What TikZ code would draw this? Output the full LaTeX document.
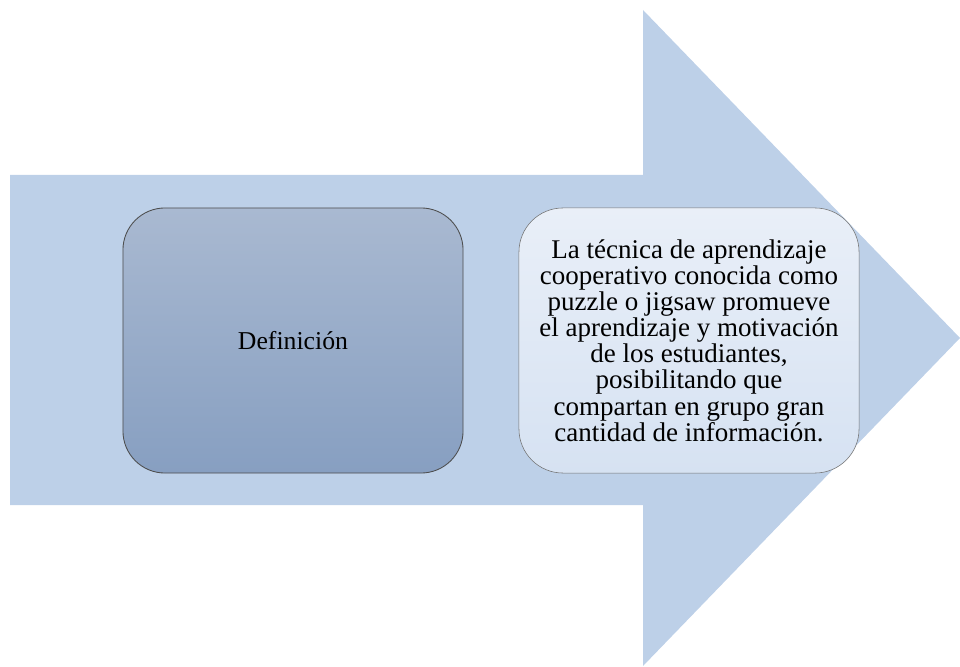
\documentclass[tikz,border=0pt]{standalone}
\usepackage{fontspec}
\setmainfont{Liberation Serif}
\usepackage{xcolor}
\usetikzlibrary{positioning,calc}

\definecolor{arrowblue}{HTML}{BDD0E8}
\definecolor{darktop}{HTML}{A9B9D1}
\definecolor{darkbot}{HTML}{879FC1}
\definecolor{lighttop}{HTML}{E9EFF8}
\definecolor{lightbot}{HTML}{D6E2F2}

\begin{document}
\begin{tikzpicture}[x=0.025cm, y=0.025cm]
    \useasboundingbox (0,0) rectangle (960,666);
    % Big arrow in the background
    \fill[arrowblue] (10,491) -- (643,491) -- (643,656) -- (960,328) -- (643,0) -- (643,161) -- (10,161) -- cycle;

    % Left box
    \node[draw=black!70, semithick, rounded corners=1.05cm, minimum width=8.5cm, minimum height=6.625cm, top color=darktop, bottom color=darkbot, font=\fontsize{18.3}{18.6}\selectfont] (definicion) at (293,325.5) {Definición};

    % Right box
    \node[draw=black!55, rounded corners=1.1cm, minimum width=8.5cm, minimum height=6.625cm, top color=lighttop, bottom color=lightbot, align=center, font=\fontsize{19.2}{18.6}\selectfont] (texto) at (689,325.5) {La técnica de aprendizaje\\cooperativo conocida como\\puzzle o jigsaw promueve\\el aprendizaje y motivación\\de los estudiantes,\\posibilitando que\\compartan en grupo gran\\cantidad de información.};
\end{tikzpicture}
\end{document}
